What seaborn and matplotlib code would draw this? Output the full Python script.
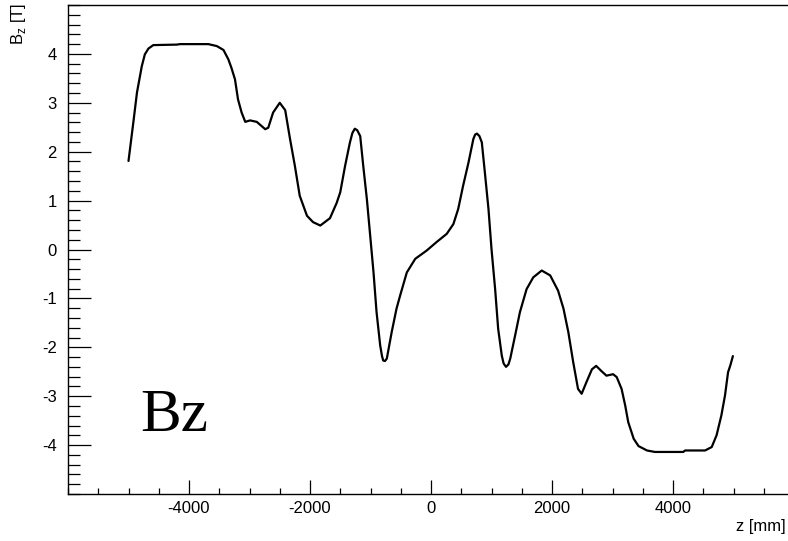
import numpy as np
import pandas as pd
import matplotlib
matplotlib.use('Agg')
import matplotlib.pyplot as plt
import seaborn as sns
from matplotlib.ticker import FixedLocator, MultipleLocator

# field map: z in mm, Bz in tesla
z_mm = [-5000, -4920, -4860, -4780, -4730, -4670, -4590, -4200, -4150, -3680,
        -3540, -3430, -3350, -3300, -3240, -3190, -3130, -3070, -2990, -2880,
        -2740, -2690, -2610, -2500, -2410, -2330, -2250, -2170, -2050, -1950,
        -1830, -1670, -1560, -1500, -1420, -1340, -1300, -1260, -1220, -1170,
        -1120, -1060, -1010, -950, -900, -840, -810, -790, -760, -730,
        -650, -570, -510, -400, -260, -70, 90, 260, 370, 450,
        530, 620, 700, 730, 760, 800, 840, 890, 950, 1000,
        1060, 1110, 1170, 1200, 1240, 1280, 1310, 1390, 1470, 1580,
        1690, 1830, 1970, 2100, 2190, 2270, 2350, 2430, 2490, 2570,
        2660, 2730, 2820, 2900, 3010, 3070, 3150, 3210, 3260, 3350,
        3430, 3570, 3700, 4170, 4200, 4530, 4640, 4720, 4800, 4860,
        4910, 4950, 4990]
bz_T = [1.81, 2.60, 3.21, 3.75, 3.99, 4.11, 4.18, 4.19, 4.20, 4.20,
        4.16, 4.08, 3.89, 3.72, 3.48, 3.07, 2.80, 2.61, 2.64, 2.61,
        2.46, 2.49, 2.80, 3.00, 2.85, 2.26, 1.71, 1.10, 0.69, 0.56,
        0.49, 0.64, 0.95, 1.17, 1.71, 2.19, 2.38, 2.47, 2.44, 2.32,
        1.71, 1.03, 0.35, -0.47, -1.28, -1.96, -2.18, -2.27, -2.28, -2.23,
        -1.69, -1.21, -0.94, -0.47, -0.19, -0.02, 0.15, 0.32, 0.52, 0.83,
        1.30, 1.78, 2.26, 2.35, 2.37, 2.32, 2.19, 1.58, 0.83, 0.01,
        -0.81, -1.62, -2.17, -2.33, -2.40, -2.35, -2.23, -1.76, -1.28, -0.81,
        -0.57, -0.43, -0.53, -0.84, -1.21, -1.69, -2.30, -2.85, -2.95, -2.71,
        -2.45, -2.38, -2.49, -2.58, -2.55, -2.61, -2.85, -3.19, -3.53, -3.87,
        -4.02, -4.11, -4.14, -4.14, -4.11, -4.11, -4.04, -3.80, -3.39, -2.98,
        -2.51, -2.36, -2.18]

x_ticks = [-4000, -2000, 0, 2000, 4000]
y_ticks = [-4, -3, -2, -1, 0, 1, 2, 3, 4]

df = pd.DataFrame({'z': z_mm, 'bz': bz_T})

sns.set_style('ticks')
plt.rcParams['font.family'] = ['Liberation Sans', 'DejaVu Sans']
plt.rcParams['text.color'] = 'black'

fig = plt.figure(figsize=(7.88, 5.41), dpi=100)
# frame runs a little past the right edge of the image, like the original
ax = fig.add_axes([68 / 788, 47 / 541, 726 / 788, 489 / 541])

sns.lineplot(data=df, x='z', y='bz', sort=False, color='black', linewidth=1.6, ax=ax)

ax.set_xlim(-6000, 6000)
ax.set_ylim(-5, 5)
ax.xaxis.set_major_locator(FixedLocator(x_ticks))
ax.xaxis.set_minor_locator(MultipleLocator(500))
ax.yaxis.set_major_locator(FixedLocator(y_ticks))
ax.yaxis.set_minor_locator(MultipleLocator(0.2))
ax.set_xticklabels([str(t) for t in x_ticks])
ax.set_yticklabels([str(t) for t in y_ticks])

ax.tick_params(which='both', direction='in', colors='black', labelsize=12)
ax.tick_params(axis='x', which='major', length=10, width=0.9, pad=5)
ax.tick_params(axis='x', which='minor', length=4.5, width=0.9)
ax.tick_params(axis='y', which='major', length=16.5, width=0.9, pad=8)
ax.tick_params(axis='y', which='minor', length=8.5, width=0.9)
for s in ax.spines.values():
    s.set_linewidth(1.0)
    s.set_color('black')

ax.set_xlabel('')
ax.set_ylabel('')

fig.text(786 / 788, 1 - 527 / 541, 'z [mm]', ha='right', va='center', fontsize=12, color='black')
fig.text(19 / 788, 1 - 3 / 541, r'B$_\mathregular{z}$ [T]', rotation=90,
         ha='center', va='top', fontsize=12, color='black')
fig.text(140 / 788, 1 - 431 / 541, 'Bz', fontsize=44, family='Liberation Serif',
         ha='left', va='baseline', color='black')

fig.savefig('out.png', dpi=100)
